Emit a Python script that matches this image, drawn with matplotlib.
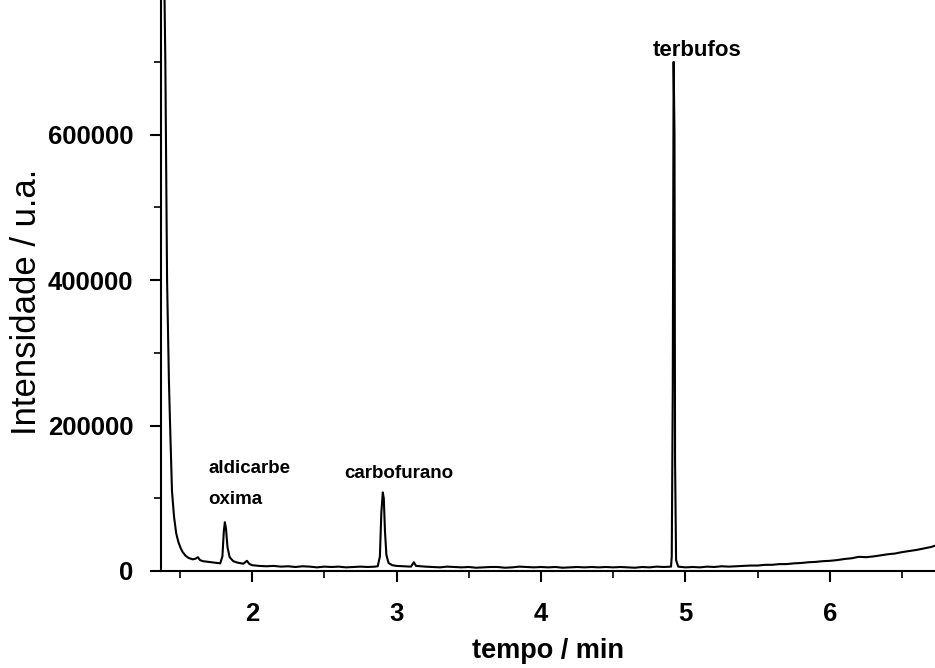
import matplotlib.pyplot as plt
from matplotlib.ticker import MultipleLocator

plt.rcParams['font.family'] = ['Liberation Sans', 'DejaVu Sans']

# chromatogram (min, intensity)
tempo = [1.385, 1.395, 1.40, 1.412, 1.425, 1.433, 1.446, 1.46, 1.475, 1.49,
         1.505, 1.52, 1.54, 1.56, 1.59, 1.61, 1.625, 1.64, 1.66, 1.70,
         1.74, 1.78, 1.795, 1.805, 1.812, 1.82, 1.83, 1.845, 1.87, 1.90,
         1.94, 1.965, 1.98, 2.00, 2.05, 2.10, 2.15, 2.20, 2.25, 2.30,
         2.35, 2.40, 2.45, 2.50, 2.55, 2.60, 2.65, 2.70, 2.75, 2.80,
         2.85, 2.87, 2.885, 2.895, 2.905, 2.912, 2.92, 2.93, 2.945, 2.97,
         3.00, 3.05, 3.10, 3.12, 3.135, 3.20, 3.25, 3.30, 3.35, 3.40,
         3.45, 3.50, 3.55, 3.60, 3.65, 3.70, 3.75, 3.80, 3.85, 3.90,
         3.95, 4.00, 4.05, 4.10, 4.15, 4.20, 4.25, 4.30, 4.35, 4.40,
         4.45, 4.50, 4.55, 4.60, 4.65, 4.70, 4.75, 4.80, 4.85, 4.90,
         4.905, 4.912, 4.918, 4.924, 4.928, 4.935, 4.95, 5.00, 5.05, 5.10,
         5.15, 5.20, 5.25, 5.30, 5.35, 5.40, 5.45, 5.50, 5.55, 5.60,
         5.65, 5.70, 5.75, 5.80, 5.85, 5.90, 5.95, 6.00, 6.05, 6.10,
         6.15, 6.20, 6.25, 6.30, 6.35, 6.40, 6.45, 6.50, 6.55, 6.60,
         6.65, 6.70, 6.73]
intensidade = [900000, 780000, 700000, 400000, 260000, 200000, 110000, 75000, 52000, 40000,
               32000, 26000, 21000, 18000, 16000, 17000, 19000, 15000, 13500, 12500,
               11500, 10500, 20000, 55000, 67000, 58000, 33000, 19000, 13500, 11500,
               10000, 14000, 10000, 8000, 7000, 6500, 7000, 6000, 6500, 5500,
               6500, 6000, 5000, 6000, 5500, 6000, 5000, 5500, 6000, 5500,
               6000, 6500, 20000, 80000, 108000, 100000, 55000, 22000, 11000, 8000,
               7000, 6500, 6000, 12000, 7000, 6000, 5500, 5000, 6000, 5500,
               5000, 5500, 4500, 5000, 5500, 5500, 4500, 5000, 6000, 5500,
               5000, 5500, 5000, 5500, 4500, 5000, 5500, 5000, 5500, 5000,
               5500, 5000, 5500, 5000, 4500, 5500, 5000, 6000, 5500, 6000,
               20000, 250000, 700000, 600000, 150000, 15000, 6000, 5000, 5500, 5000,
               6000, 5500, 6500, 6000, 6500, 7000, 7500, 7500, 8500, 8500,
               9500, 9500, 10500, 11000, 12000, 12500, 13500, 14000, 15000, 16500,
               17500, 19500, 19000, 20000, 21500, 23000, 24000, 26000, 27500, 29000,
               31000, 33000, 35000]

rotulos = ['aldicarbe', 'oxima', 'carbofurano', 'terbufos']
rotulo_x = [1.70, 1.70, 2.64, 5.08]
rotulo_y = [141000, 98000, 134000, 716000]

fig = plt.figure(figsize=(9.35, 6.68), dpi=100)
ax = fig.add_axes([161 / 935, 97 / 668, 1 - 161 / 935, 571 / 668])

ax.plot(tempo, intensidade, color='black', lw=1.5)

ax.set_xlim(1.37, 6.727)
ax.set_ylim(0, 785000)
ax.spines['top'].set_visible(False)
ax.spines['right'].set_visible(False)
ax.spines['left'].set_linewidth(1.5)
ax.spines['bottom'].set_linewidth(1.5)

ax.xaxis.set_major_locator(MultipleLocator(1))
ax.xaxis.set_minor_locator(MultipleLocator(0.5))
ax.yaxis.set_major_locator(MultipleLocator(200000))
ax.yaxis.set_minor_locator(MultipleLocator(100000))
ax.tick_params(which='major', direction='out', length=8, width=1.5)
ax.tick_params(axis='x', which='major', pad=14)
ax.tick_params(axis='y', which='major', pad=12)
ax.tick_params(which='minor', direction='out', length=5, width=1.2)
for lab in ax.get_xticklabels() + ax.get_yticklabels():
    lab.set_fontsize(18.5)
    lab.set_fontweight('bold')

ax.set_xlabel('tempo / min', fontsize=19.5, fontweight='bold', labelpad=9)
fig.text(27 / 935, 1 - 302 / 668, 'Intensidade / u.a.', fontsize=25,
         rotation=90, ha='center', va='center')

for i in range(3):
    ax.text(rotulo_x[i], rotulo_y[i], rotulos[i], fontsize=13.5,
            fontweight='bold', ha='left', va='center')
ax.text(rotulo_x[3], rotulo_y[3], rotulos[3], fontsize=16,
        fontweight='bold', ha='center', va='center')

fig.savefig('out.png', dpi=100)
